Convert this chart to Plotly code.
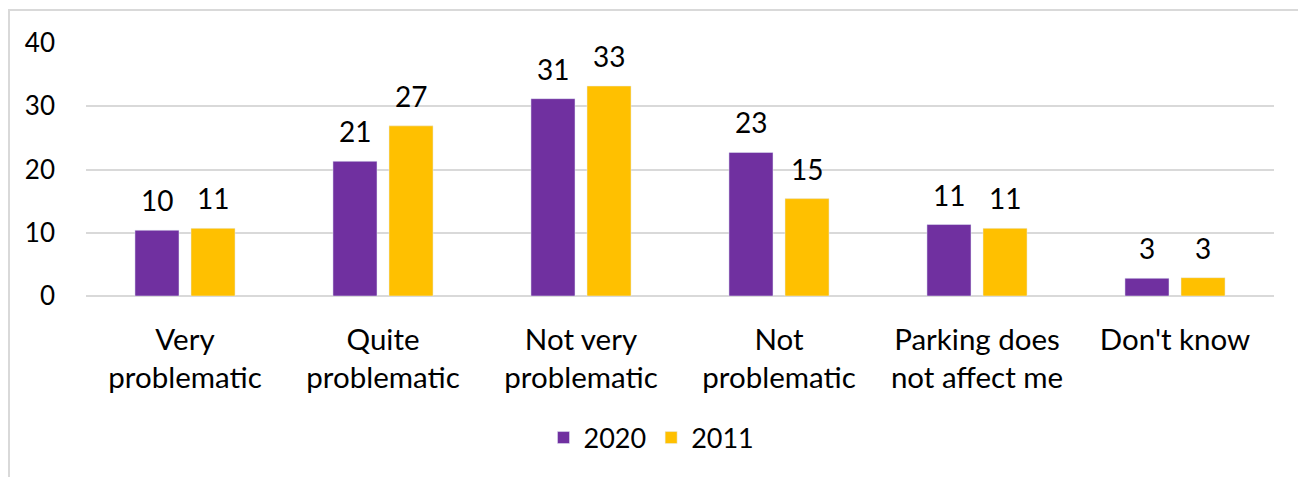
import plotly.graph_objects as go

categories = ["Very<br>problematic", "Quite<br>problematic", "Not very<br>problematic",
              "Not<br>problematic", "Parking does<br>not affect me", "Don't know"]
values_2020 = [10.4, 21.3, 31.2, 22.7, 11.3, 2.8]
values_2011 = [10.7, 26.9, 33.2, 15.4, 10.7, 2.9]
y_ticks = [0, 10, 20, 30, 40]

FONT = "Lato"
COL_2020 = "#7030A0"
COL_2011 = "#FFC000"

fig = go.Figure()
fig.add_trace(go.Bar(name="2020", x=categories, y=values_2020, marker_color=COL_2020))
fig.add_trace(go.Bar(name="2011", x=categories, y=values_2011, marker_color=COL_2011))

OFF = 8  # default page body margin
W, H = 1306 - OFF, 477 - OFF
L, R, T, B = 86 - OFF, 32, 43 - OFF, 181
pw, ph = W - L - R, H - T - B

def px(x):  # page x -> paper
    return (x - OFF - L) / pw

def py(y):  # page y -> paper
    return (H - B - (y - OFF)) / ph

annotations = []
for vals, shift in ((values_2020, -28), (values_2011, 28)):
    for c, v in zip(categories, vals):
        annotations.append(dict(x=c, y=v, xref="x", yref="y", text=f"{v:.0f}",
                                showarrow=False, xshift=shift, yshift=30, yanchor="middle",
                                font=dict(size=28, family=FONT, color="#000000")))

fig.update_layout(
    width=W, height=H,
    margin=dict(l=L, r=R, t=T, b=B, autoexpand=False),
    paper_bgcolor="white", plot_bgcolor="white",
    barmode="group", bargap=0.434, bargroupgap=0.214,
    font=dict(family=FONT, size=26, color="#000000"),
    showlegend=True,
    legend=dict(orientation="h", x=0.476, xanchor="center", y=py(438), yanchor="middle",
                font=dict(size=27, family=FONT), itemwidth=30, traceorder="normal"),
    xaxis=dict(showline=False, tickfont=dict(size=29.5, family=FONT), ticks="", showgrid=False,
               ticklabelstandoff=23),
    yaxis=dict(range=[0, 40], tickvals=y_ticks, showgrid=True, gridcolor="#D9D9D9", gridwidth=2,
               zeroline=True, zerolinecolor="#D9D9D9", zerolinewidth=2, showline=False,
               tickfont=dict(size=26, family=FONT), ticklabelstandoff=30),
    annotations=annotations,
    shapes=[dict(type="rect", xref="paper", yref="paper",
                 x0=px(9), x1=px(1302), y0=py(490), y1=py(10),
                 line=dict(color="#D9D9D9", width=2), fillcolor="rgba(0,0,0,0)", layer="below")],
)

fig.write_html("out.html")
